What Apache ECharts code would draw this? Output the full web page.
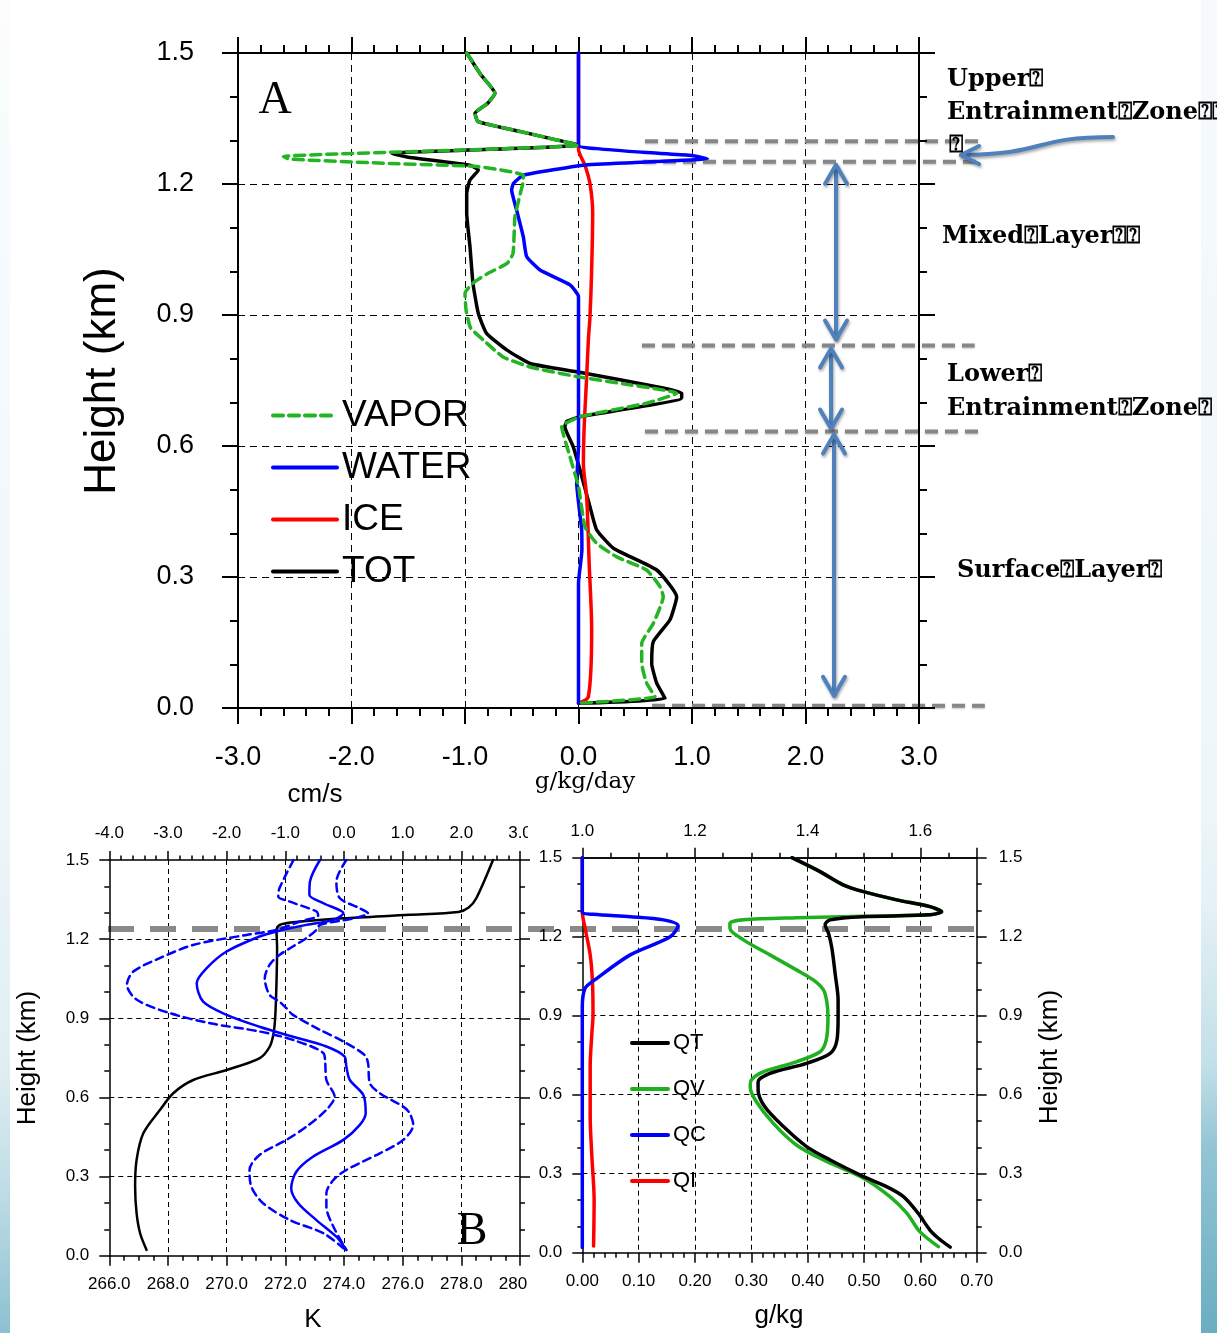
<!DOCTYPE html>
<html>
<head>
<meta charset="utf-8">
<script src="https://cdn.jsdelivr.net/npm/echarts@6/dist/echarts.min.js"></script>
<style>
  html, body { margin: 0; padding: 0; background: #fff; }
  #c { width: 1217px; height: 1333px; }
</style>
</head>
<body>
<div id="c"></div>
<script>
// ---------- Panel A: moisture tendencies (g/kg/day) against height (km) ----------
const totX   = [-0.985,-0.86,-0.736,-0.80,-0.912,-0.885,-0.508,-0.262,0.0,-1.646,-1.51,-0.956,-0.883,-0.956,-0.985,-0.985,-0.956,-0.93,-0.883,-0.81,-0.633,-0.427,-0.016,0.745,0.909,0.909,0.013,-0.104,-0.12,-0.046,0.013,0.101,0.16,0.307,0.689,0.865,0.806,0.659,0.645,0.689,0.762,0.0];
const totH   = [1.5,1.45,1.408,1.385,1.362,1.343,1.32,1.305,1.289,1.27,1.262,1.243,1.232,1.209,1.178,1.133,1.056,0.973,0.904,0.858,0.82,0.789,0.77,0.733,0.721,0.71,0.667,0.656,0.644,0.598,0.545,0.461,0.408,0.366,0.316,0.255,0.202,0.152,0.102,0.057,0.022,0.011];
const vaporX = [-0.985,-0.86,-0.736,-0.80,-0.912,-0.885,-0.508,-0.262,0.0,-2.60,-2.55,-1.66,-0.897,-0.486,-0.49,-0.53,-0.56,-0.577,-0.63,-0.80,-0.93,-1.0,-0.99,-0.95,-0.84,-0.665,-0.427,-0.016,0.454,0.865,0.60,0.013,-0.148,-0.075,0.0,0.057,0.16,0.337,0.60,0.718,0.747,0.66,0.557,0.557,0.60,0.674,0.0];
const vaporH = [1.5,1.45,1.408,1.385,1.362,1.343,1.32,1.305,1.289,1.263,1.257,1.247,1.240,1.220,1.202,1.16,1.125,1.041,1.018,0.995,0.973,0.95,0.91,0.87,0.843,0.804,0.781,0.759,0.740,0.721,0.698,0.667,0.644,0.575,0.507,0.415,0.377,0.346,0.316,0.278,0.255,0.194,0.148,0.102,0.057,0.026,0.011];
const waterX = [0,0,0.16,0.60,0.98,1.136,0.98,0.50,0.042,-0.486,-0.574,-0.589,-0.545,-0.486,-0.457,-0.339,-0.075,0.0,0.0,-0.016,0.028,0.03,0.0,0.0];
const waterH = [1.5,1.289,1.281,1.272,1.266,1.258,1.255,1.249,1.243,1.22,1.201,1.186,1.14,1.079,1.034,1.003,0.969,0.942,0.60,0.515,0.408,0.362,0.286,0.011];
const iceX   = [0,0,0.057,0.101,0.125,0.115,0.101,0.087,0.072,0.049,0.043,0.072,0.094,0.116,0.087,0.0];
const iceH   = [1.5,1.28,1.243,1.201,1.133,0.996,0.896,0.843,0.759,0.637,0.56,0.484,0.331,0.178,0.026,0.011];

// ---------- Panel B (left): potential temperature (K) and wind (top axis) ----------
const thetaK = [279.08,278.51,278.25,277.9,276.24,273.97,272.27,271.81,271.70,271.72,271.70,271.66,271.6,271.47,271.13,270.0,268.86,268.18,267.73,267.16,266.93,266.88,266.93,267.05,267.27];
const thetaH = [1.5,1.355,1.32,1.303,1.292,1.279,1.264,1.254,1.235,1.165,1.039,0.913,0.843,0.793,0.749,0.704,0.666,0.616,0.553,0.464,0.363,0.262,0.161,0.085,0.022];
const uMean  = [-0.41,-0.58,-0.59,-0.35,-0.01,-0.18,-0.64,-1.15,-1.44,-2.0,-2.34,-2.51,-2.4,-2.0,-1.44,-0.87,-0.30,0.01,0.04,0.1,0.33,0.37,0.27,-0.01,-0.53,-0.81,-0.9,-0.78,-0.47,-0.13,0.04];
const uMeanH = [1.5,1.418,1.368,1.336,1.298,1.273,1.254,1.229,1.21,1.153,1.09,1.033,0.963,0.913,0.868,0.83,0.793,0.755,0.717,0.666,0.609,0.54,0.496,0.439,0.375,0.319,0.256,0.199,0.135,0.072,0.022];
const uLow   = [-0.86,-1.10,-1.12,-0.92,-0.47,-0.44,-0.75,-1.15,-1.66,-2.57,-3.14,-3.59,-3.70,-3.53,-2.96,-2.28,-1.44,-0.87,-0.35,-0.32,-0.30,-0.16,-0.30,-0.64,-0.98,-1.44,-1.61,-1.58,-1.38,-0.92,-0.35,-0.01];
const uLowH  = [1.5,1.393,1.362,1.342,1.305,1.29,1.267,1.235,1.216,1.178,1.128,1.077,1.027,0.97,0.919,0.881,0.85,0.818,0.768,0.73,0.666,0.603,0.553,0.489,0.439,0.382,0.325,0.262,0.199,0.135,0.085,0.028];
const uHigh  = [0.04,-0.13,-0.07,0.27,0.41,0.16,-0.41,-0.47,-0.64,-0.87,-1.10,-1.27,-1.35,-1.27,-1.10,-0.98,-0.87,-0.41,-0.01,0.35,0.41,0.44,0.61,1.01,1.12,1.18,1.01,0.61,0.04,-0.18,-0.30,-0.30,-0.18,0.04];
const uHighH = [1.5,1.418,1.355,1.317,1.298,1.279,1.254,1.235,1.204,1.172,1.14,1.102,1.052,0.989,0.963,0.938,0.913,0.856,0.812,0.761,0.73,0.654,0.616,0.565,0.54,0.496,0.439,0.388,0.325,0.287,0.237,0.186,0.11,0.022];

// ---------- Panel B (right): mixing ratios (g/kg) ----------
const qtTop = [1.372,1.422,1.463,1.499,1.558,1.617,1.638,1.617,1.499,1.44,1.431,1.437,1.443,1.449,1.454,1.454,1.452,1.44,1.398,1.333,1.312,1.312,1.324,1.357,1.398,1.44,1.499,1.54,1.57,1.596,1.617,1.632,1.653];
const qtH   = [1.5,1.447,1.397,1.371,1.34,1.314,1.295,1.283,1.276,1.264,1.245,1.213,1.156,1.055,0.96,0.894,0.808,0.757,0.719,0.681,0.649,0.618,0.554,0.479,0.403,0.352,0.289,0.251,0.213,0.15,0.086,0.055,0.021];
const qvTop = [1.372,1.422,1.463,1.499,1.558,1.617,1.635,1.617,1.499,1.38,1.286,1.262,1.262,1.286,1.333,1.38,1.41,1.428,1.434,1.436,1.433,1.422,1.38,1.321,1.30,1.298,1.307,1.339,1.38,1.428,1.499,1.546,1.576,1.599,1.632];
const qvH   = [1.5,1.447,1.397,1.371,1.34,1.314,1.295,1.283,1.278,1.272,1.264,1.251,1.232,1.188,1.131,1.074,1.036,0.998,0.953,0.894,0.808,0.763,0.725,0.687,0.656,0.63,0.58,0.491,0.409,0.352,0.283,0.213,0.15,0.08,0.023];
const qc    = [0,0,0.0195,0.085,0.144,0.17,0.156,0.085,0.026,0.005,0,0];
const qcH   = [1.5,1.295,1.285,1.276,1.264,1.242,1.2,1.131,1.042,1.004,0.93,0.02];
const qi    = [0,0,0.005,0.014,0.018,0.019,0.017,0.014,0.014,0.017,0.021,0.02];
const qiH   = [1.5,1.295,1.232,1.131,1.03,0.903,0.834,0.707,0.517,0.365,0.2,0.025];

// Layer boundaries (km) marked beside panel A, and the inversion height in panel B
const zoneHeights = [1.298, 1.251, 0.83, 0.633, 0.005];
const inversionHeight = 1.238;

const SANS = '"Liberation Sans", Arial, Helvetica, sans-serif';
const SERIF_B = '"DejaVu Serif", serif';

const chart = echarts.init(document.getElementById('c'), null, { renderer: 'canvas', width: 1217, height: 1333 });

function ax(p) {
  const o = {
    type: 'value', gridIndex: p.grid, position: p.pos,
    min: p.min, max: p.max, interval: p.interval,
    axisLine: { show: true, onZero: false, lineStyle: { color: '#000', width: p.lw } },
    axisTick: { show: true, inside: false, length: p.tick, lineStyle: { color: '#000', width: p.lw } },
    minorTick: { show: !!p.minor, splitNumber: p.minor || 5, length: p.tick / 2, lineStyle: { color: '#000', width: p.lw } },
    axisLabel: { show: false },
    splitLine: { show: false },
    z: 1
  };
  if (p.label) {
    o.axisLabel = {
      show: true, fontSize: p.fs, fontFamily: SANS, color: '#000', margin: p.margin,
      hideOverlap: false,
      formatter: p.fmt || (v => v.toFixed(p.dec))
    };
  }
  if (p.split) {
    o.splitLine = { show: true, showMinLine: false, showMaxLine: false, lineStyle: p.split };
  }
  return o;
}

const dashA = { color: '#000', width: 1, type: [7, 5] };
const dashB = { color: '#000', width: 1, type: [5, 4] };

function line(name, xs, hs, xi, yi, color, width, dash, smooth) {
  return {
    name, type: 'line', xAxisIndex: xi, yAxisIndex: yi,
    data: xs.map((x, i) => [x, hs[i]]),
    symbol: 'none', smooth: smooth, clip: false,
    lineStyle: { color, width, type: dash || 'solid', cap: 'round', join: 'round' },
    itemStyle: { color }, z: 3, animation: false
  };
}

const GREEN = '#22b422';
const option = {
  animation: false,
  backgroundColor: '#ffffff',
  grid: [
    { left: 238, top: 53, width: 681, height: 655, containLabel: false, outerBoundsMode: 'none' },
    { left: 109.3, top: 860, width: 410.7, height: 395.7, containLabel: false, outerBoundsMode: 'none' },
    { left: 582.3, top: 857.7, width: 394.4, height: 395, containLabel: false, outerBoundsMode: 'none' }
  ],
  xAxis: [
    ax({ grid: 0, pos: 'bottom', min: -3, max: 3, interval: 1, minor: 5, tick: 16, lw: 2, label: true, fs: 27, margin: 36, dec: 1, split: dashA }),
    ax({ grid: 0, pos: 'top', min: -3, max: 3, interval: 1, minor: 5, tick: 16, lw: 2 }),
    ax({ grid: 1, pos: 'bottom', min: 266, max: 280, interval: 2, minor: 4, tick: 10, lw: 1.5, label: true, fs: 17, margin: 20, dec: 1, split: dashB }),
    ax({ grid: 1, pos: 'top', min: -4, max: 3, interval: 1, minor: 5, tick: 9, lw: 1.5, label: true, fs: 17, margin: 18, dec: 1 }),
    ax({ grid: 2, pos: 'bottom', min: 0, max: 0.7, interval: 0.1, minor: 5, tick: 10, lw: 1.5, label: true, fs: 17, margin: 20, dec: 2, split: dashB }),
    ax({ grid: 2, pos: 'top', min: 1.0, max: 1.7, interval: 0.05, tick: 5, lw: 1.5 }),
    ax({ grid: 2, pos: 'top', min: 1.0, max: 1.7, interval: 0.2, tick: 10, lw: 1.5, label: true, fs: 17, margin: 18,
         fmt: v => (Math.round(v * 10) % 2 === 0 ? v.toFixed(1) : '') })
  ],
  yAxis: [
    ax({ grid: 0, pos: 'left', min: 0, max: 1.5, interval: 0.3, minor: 3, tick: 16, lw: 2, label: true, fs: 27, margin: 44, dec: 1, split: dashA }),
    ax({ grid: 0, pos: 'right', min: 0, max: 1.5, interval: 0.3, minor: 3, tick: 16, lw: 2 }),
    ax({ grid: 1, pos: 'left', min: 0, max: 1.5, interval: 0.3, minor: 3, tick: 10, lw: 1.5, label: true, fs: 17, margin: 20, dec: 1, split: dashB }),
    ax({ grid: 1, pos: 'right', min: 0, max: 1.5, interval: 0.3, minor: 3, tick: 10, lw: 1.5 }),
    ax({ grid: 2, pos: 'left', min: 0, max: 1.5, interval: 0.3, minor: 3, tick: 10, lw: 1.5, label: true, fs: 17, margin: 20, dec: 1, split: dashB }),
    ax({ grid: 2, pos: 'right', min: 0, max: 1.5, interval: 0.3, minor: 3, tick: 10, lw: 1.5, label: true, fs: 17, margin: 22, dec: 1 })
  ],
  legend: [
    {
      data: ['VAPOR', 'WATER', 'ICE', 'TOT'], orient: 'vertical', left: 266, top: 392,
      itemWidth: 64, itemHeight: 2, itemGap: 15, selectedMode: false,
      itemStyle: { opacity: 0 },
      lineStyle: { width: 4 },
      textStyle: { fontSize: 37, lineHeight: 37, fontFamily: SANS, color: '#000' }
    },
    {
      data: ['QT', 'QV', 'QC', 'QI'], orient: 'vertical', left: 625, top: 1027,
      itemWidth: 36, itemHeight: 2, itemGap: 24, selectedMode: false,
      itemStyle: { opacity: 0 },
      lineStyle: { width: 4 },
      textStyle: { fontSize: 22, lineHeight: 22, fontFamily: SANS, color: '#000' }
    }
  ],
  series: [
    // panel A
    line('TOT', totX, totH, 0, 0, '#000000', 3.5, null, 0.15),
    line('ICE', iceX, iceH, 0, 0, '#ff0000', 3.5, null, 0.3),
    line('WATER', waterX, waterH, 0, 0, '#0000ff', 3.5, null, 0.15),
    line('VAPOR', vaporX, vaporH, 0, 0, GREEN, 3.5, [10, 6], 0.15),
    // panel B, left
    line('θ', thetaK, thetaH, 2, 2, '#000000', 2.5, null, 0.3),
    line('u−σ', uLow, uLowH, 3, 2, '#0000ff', 2.5, [8, 5], 0.3),
    line('u+σ', uHigh, uHighH, 3, 2, '#0000ff', 2.5, [8, 5], 0.3),
    line('u', uMean, uMeanH, 3, 2, '#0000ff', 2.5, null, 0.3),
    // panel B, right
    line('QI', qi, qiH, 4, 4, '#ff0000', 3.5, null, 0.3),
    line('QC', qc, qcH, 4, 4, '#0000ff', 3.5, null, 0.3),
    line('QV', qvTop, qvH, 5, 4, '#1eb01e', 3.5, null, 0.3),
    line('QT', qtTop, qtH, 5, 4, '#000000', 3.5, null, 0.3)
  ]
};
chart.setOption(option);

// ---------- annotations ----------
const toPx = (xi, yi, x, y) => chart.convertToPixel({ xAxisIndex: xi, yAxisIndex: yi }, [x, y]);

function txt(text, x, y, font, align, rot) {
  return {
    type: 'text', x, y, rotation: rot || 0, z: 50,
    style: {
      text, x: 0, y: 0, font, fill: '#000',
      align: align || 'center', verticalAlign: 'middle',
      textAlign: align || 'center', textVerticalAlign: 'middle'
    }
  };
}

const g = [];

// page edge shading
g.push({ type: 'rect', z: -10, shape: { x: 1201, y: 0, width: 16, height: 1333 },
  style: { fill: new echarts.graphic.LinearGradient(0, 0, 0, 1, [
    { offset: 0, color: '#f6fafc' }, { offset: 0.6, color: '#eef6f9' }, { offset: 0.68, color: '#e4f1f5' },
    { offset: 0.8, color: '#c2dfe8' }, { offset: 0.86, color: '#93c5d4' }, { offset: 1, color: '#6aaec2' }]) } });
g.push({ type: 'rect', z: -10, shape: { x: 0, y: 0, width: 10, height: 1333 },
  style: { fill: new echarts.graphic.LinearGradient(0, 0, 0, 1, [
    { offset: 0, color: '#fbfdfe' }, { offset: 0.6, color: '#eef6f9' }, { offset: 0.8, color: '#e0eef3' },
    { offset: 0.9, color: '#bcdbe4' }, { offset: 1, color: '#8cc1d1' }]) } });

// layer boundary markers beside panel A
const zoneSpan = [[0.586, 3.52], [0.568, 3.50], [0.559, 3.49], [0.586, 3.52], [0.648, 3.58]];
const zoneStyle = { stroke: '#878787', lineWidth: 4, lineDash: [13, 7], shadowBlur: 2, shadowColor: 'rgba(0,0,0,0.25)', shadowOffsetY: 1 };
const zoneY = zoneHeights.map((h, i) => {
  const a = toPx(0, 0, zoneSpan[i][0], h), b = toPx(0, 0, zoneSpan[i][1], h);
  g.push({ type: 'line', z: 1, shape: { x1: a[0], y1: a[1], x2: b[0], y2: b[1] }, style: zoneStyle });
  return a[1];
});

// double arrows between the boundaries
const arrowStyle = { stroke: '#4f81bd', fill: null, lineWidth: 4, lineCap: 'round', lineJoin: 'round',
  shadowBlur: 3, shadowColor: 'rgba(0,0,0,0.35)', shadowOffsetX: 1, shadowOffsetY: 2 };
function dblArrow(xData, y1, y2) {
  const x = toPx(0, 0, xData, 0)[0];
  g.push({ type: 'line', z: 20, shape: { x1: x, y1: y1 + 2, x2: x, y2: y2 - 2 }, style: arrowStyle });
  g.push({ type: 'polyline', z: 20, shape: { points: [[x - 11, y1 + 19], [x, y1], [x + 11, y1 + 19]] }, style: arrowStyle });
  g.push({ type: 'polyline', z: 20, shape: { points: [[x - 11, y2 - 19], [x, y2], [x + 11, y2 - 19]] }, style: arrowStyle });
}
dblArrow(2.269, zoneY[1] + 3, zoneY[2] - 6);
dblArrow(2.225, zoneY[2] + 3, zoneY[3] - 3);
dblArrow(2.251, zoneY[3] + 3, zoneY[4] - 10);

// curved pointer to the upper entrainment zone
g.push({ type: 'bezierCurve', z: 20, shape: { x1: 1113, y1: 137, cpx1: 1030, cpy1: 137, cpx2: 1050, cpy2: 154, x2: 961, y2: 155 }, style: arrowStyle });
g.push({ type: 'polyline', z: 20, shape: { points: [[979, 146], [961, 155], [979, 164]] }, style: arrowStyle });

// layer names
const LF = 'bold 24px ' + SERIF_B;
g.push(txt('Upper⍰', 947, 80, LF, 'left'));
g.push(txt('Entrainment⍰Zone⍰⍰', 947, 113, LF, 'left'));
g.push(txt('⍰', 949, 146, LF, 'left'));
g.push(txt('Mixed⍰Layer⍰⍰', 942, 237, LF, 'left'));
g.push(txt('Lower⍰', 947, 375, LF, 'left'));
g.push(txt('Entrainment⍰Zone⍰', 947, 409, LF, 'left'));
g.push(txt('Surface⍰Layer⍰', 957, 571, LF, 'left'));

// panel A titles
g.push(txt('A', 275, 101, '46px "Liberation Serif", serif'));
g.push(txt('Height (km)', 103, 381, '44px ' + SANS, 'center', Math.PI / 2));
g.push(txt('cm/s', 315, 795, '26px ' + SANS));
g.push(txt('g/kg/day', 585, 782, '23px "DejaVu Serif", serif'));

// panel B titles
g.push(txt('B', 472, 1232, '46px "Liberation Serif", serif'));
g.push(txt('Height (km)', 28, 1058, '26px ' + SANS, 'center', Math.PI / 2));
g.push(txt('Height (km)', 1050, 1057, '26px ' + SANS, 'center', Math.PI / 2));
g.push(txt('K', 313, 1320, '26px ' + SANS));
g.push(txt('g/kg', 779, 1316, '26px ' + SANS));

// inversion marker across both lower panels
const invY = toPx(2, 2, 270, inversionHeight)[1];
g.push({ type: 'line', z: 1, shape: { x1: 108, y1: invY, x2: 975, y2: invY },
  style: { stroke: '#8a8a8a', lineWidth: 6, lineDash: [26, 16] } });

// the left panel's outermost tick labels are cut where the right panel begins
g.push({ type: 'rect', z: 100, shape: { x: 528, y: 816, width: 18, height: 28 }, style: { fill: '#fff' } });
g.push({ type: 'rect', z: 100, shape: { x: 528, y: 1272, width: 18, height: 28 }, style: { fill: '#fff' } });

chart.setOption({ graphic: { elements: g } });
</script>
</body>
</html>
